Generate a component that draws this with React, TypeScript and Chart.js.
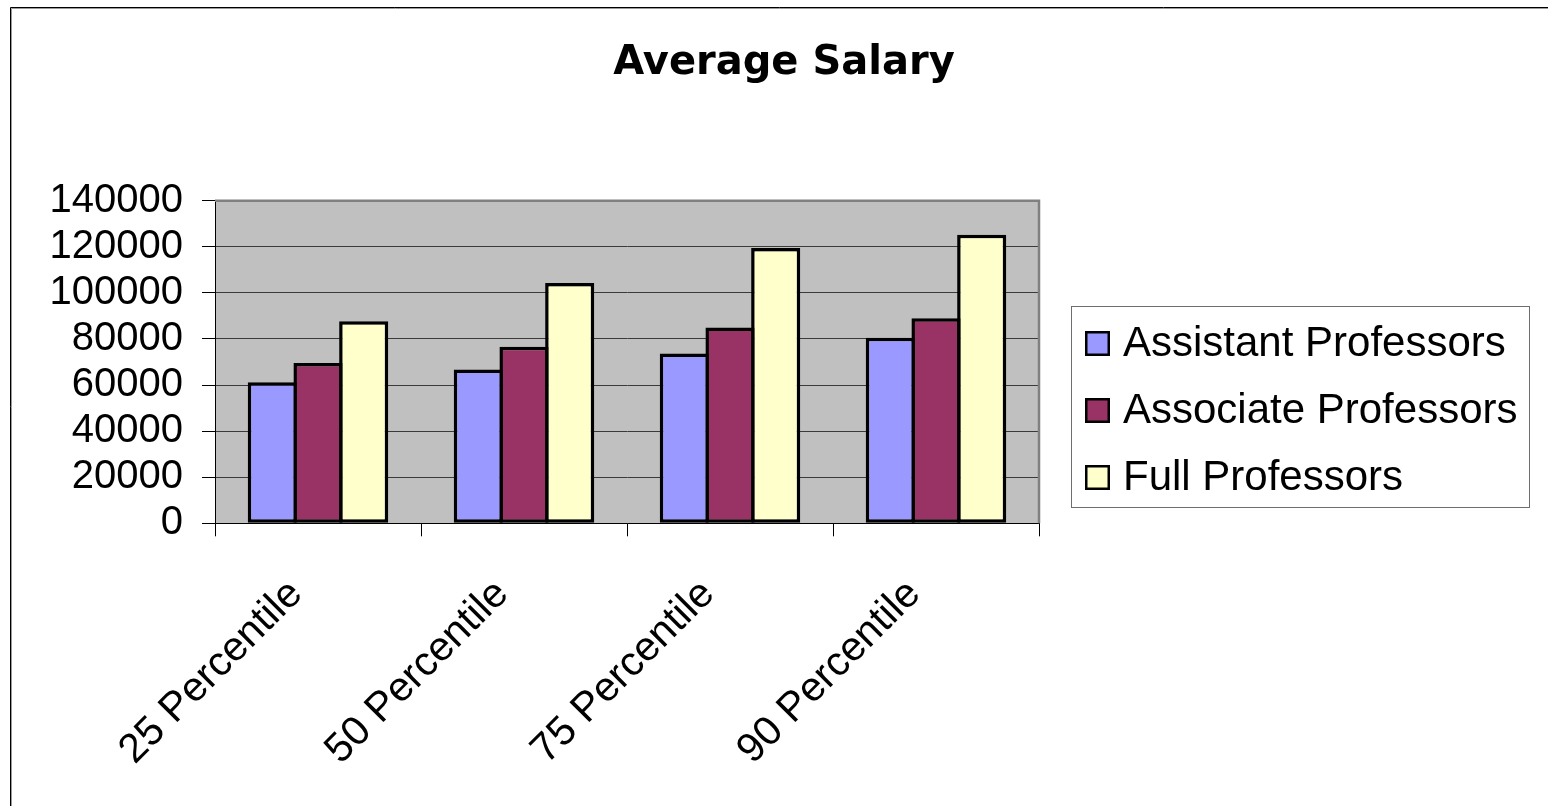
import React, { useEffect, useRef } from "react";
import { Chart, registerables } from "chart.js";

Chart.register(...registerables);

// ---- data ----
const categories = ["25 Percentile", "50 Percentile", "75 Percentile", "90 Percentile"];
const seriesNames = ["Assistant Professors", "Associate Professors", "Full Professors"];
const assistantProfessors = [61200, 66700, 73700, 80500];
const associateProfessors = [69600, 76600, 85000, 89000];
const fullProfessors = [87700, 104300, 119500, 125200];
const seriesColors = ["#9999FF", "#993366", "#FFFFCC"];
const yMin = 0;
const yMax = 140000;
const yStep = 20000;
const titleText = "Average Salary";

const W = 1548;
const H = 806;

const framePlugin = {
  id: "frame",
  beforeDraw(chart: any) {
    const { ctx, chartArea: a } = chart;
    ctx.save();
    ctx.fillStyle = "#ffffff";
    ctx.fillRect(0, 0, W, H);
    ctx.strokeStyle = "#9a9a9a";
    ctx.lineWidth = 1;
    ctx.beginPath();
    ctx.moveTo(11.5, H);
    ctx.lineTo(11.5, 8.5);
    ctx.lineTo(W, 8.5);
    ctx.stroke();
    ctx.strokeStyle = "#000000";
    ctx.beginPath();
    ctx.moveTo(10.5, H);
    ctx.lineTo(10.5, 7.5);
    ctx.lineTo(W, 7.5);
    ctx.stroke();
    ctx.fillStyle = "#C0C0C0";
    ctx.fillRect(a.left, a.top, a.right - a.left, a.bottom - a.top);
    ctx.restore();
  },
  beforeDatasetsDraw(chart: any) {
    const { ctx, chartArea: a } = chart;
    ctx.save();
    ctx.strokeStyle = "#808080";
    ctx.lineWidth = 2.5;
    ctx.beginPath();
    ctx.moveTo(a.left, a.top);
    ctx.lineTo(a.right, a.top);
    ctx.lineTo(a.right, a.bottom);
    ctx.stroke();
    ctx.restore();
  },
};

const legendPlugin = {
  id: "boxLegend",
  afterDraw(chart: any) {
    const { ctx } = chart;
    const left = 1071;
    const top = 306;
    const width = 458;
    const height = 201;
    const swatchX = 1085;
    const swatch = 25;
    const textX = 1123;
    const firstRow = 343.5;
    const rowGap = 67;
    ctx.save();
    ctx.strokeStyle = "#6e6e6e";
    ctx.lineWidth = 1;
    ctx.strokeRect(left + 0.5, top + 0.5, width, height);
    chart.data.datasets.forEach((ds: any, i: number) => {
      const cy = firstRow + i * rowGap;
      ctx.fillStyle = ds.backgroundColor;
      ctx.fillRect(swatchX, cy - swatch / 2, swatch, swatch);
      ctx.strokeStyle = "#000";
      ctx.lineWidth = 2.5;
      ctx.strokeRect(swatchX + 1.25, cy - swatch / 2 + 1.25, swatch - 2.5, swatch - 2.5);
      ctx.fillStyle = "#000";
      ctx.font = "42px 'Liberation Sans', Arial, sans-serif";
      ctx.textBaseline = "alphabetic";
      ctx.textAlign = "left";
      ctx.fillText(ds.label, textX, cy + 12);
    });
    ctx.restore();
  },
};

export default function App() {
  const ref = useRef<HTMLCanvasElement | null>(null);

  useEffect(() => {
    if (!ref.current) return;
    const series = [assistantProfessors, associateProfessors, fullProfessors];
    const chart = new Chart(ref.current, {
      type: "bar",
      data: {
        labels: categories,
        datasets: series.map((d, i) => ({
          label: seriesNames[i],
          data: d,
          backgroundColor: seriesColors[i],
          borderColor: "#000000",
          borderWidth: 3.5,
          borderSkipped: false,
          categoryPercentage: 0.6655,
          barPercentage: 1.075,
        })),
      },
      options: {
        responsive: false,
        animation: false,
        devicePixelRatio: 1,
        layout: { padding: { left: 20, right: 0, top: 0, bottom: 0 } },
        plugins: {
          legend: { display: false },
          tooltip: { enabled: false },
          title: {
            display: true,
            text: titleText,
            color: "#000",
            font: { family: "'DejaVu Sans', sans-serif", weight: "bold", size: 40, lineHeight: 1.2 },
            padding: { top: 40, bottom: 112.7 },
          },
        },
        scales: {
          x: {
            offset: true,
            grid: {
              display: true,
              offset: true,
              drawOnChartArea: false,
              drawTicks: true,
              tickLength: 13,
              tickColor: "#000",
              color: "#000",
            },
            border: { display: true, color: "#000", width: 1 },
            ticks: {
              color: "#000",
              font: { family: "'Liberation Sans', Arial, sans-serif", size: 41 },
              maxRotation: 45,
              minRotation: 45,
              autoSkip: false,
              padding: 34,
              labelOffset: -22,
            },
            afterFit(s: any) {
              s.height = 282.7;
            },
          },
          y: {
            min: yMin,
            max: yMax,
            grid: {
              color: "#3a3a3a",
              lineWidth: 1,
              tickLength: 13,
              tickColor: "#000",
            },
            border: { display: true, color: "#000", width: 1 },
            ticks: {
              stepSize: yStep,
              autoSkip: false,
              color: "#000",
              padding: 19,
              font: { family: "'Liberation Sans', Arial, sans-serif", size: 40 },
              callback: (v: any) => String(v),
            },
            afterFit(s: any) {
              s.width = 195;
            },
          },
          legendSpace: {
            type: "linear",
            position: "right",
            display: true,
            grid: { display: false, drawTicks: false },
            border: { display: false },
            ticks: { display: false },
            afterFit(s: any) {
              s.width = 509;
            },
          },
        },
      } as any,
      plugins: [framePlugin, legendPlugin],
    });
    return () => chart.destroy();
  }, []);

  return (
    <div style={{ position: "fixed", left: 0, top: 0, width: W, height: H, background: "#fff" }}>
      <canvas ref={ref} width={W} height={H} style={{ width: W, height: H, display: "block" }} />
    </div>
  );
}
